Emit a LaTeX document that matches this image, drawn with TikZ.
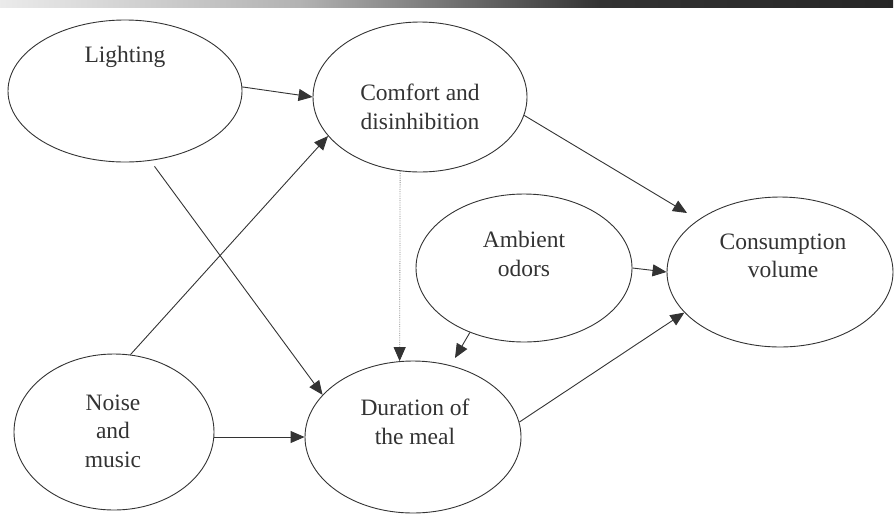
\documentclass[tikz,border=0pt]{standalone}
\usepackage{fontspec}
\setmainfont{Liberation Serif}
\usetikzlibrary{arrows.meta,shapes.geometric}
\pgfdeclarehorizontalshading{topbar}{100bp}{color(0bp)=(black!8); color(25bp)=(black!8); color(41.8bp)=(black!30); color(58.6bp)=(black!80); color(75bp)=(black!85); color(100bp)=(black!85)}
\begin{document}
\begin{tikzpicture}[x=1pt,y=-1pt,
  ell/.style={draw=black!80, line width=0.9pt, ellipse, inner sep=0pt},
  lbl/.style={align=center, text=black!80, font=\fontsize{23.5}{28.5}\selectfont, inner sep=0pt},
  arr/.style={draw=black!80, line width=0.9pt, -{Triangle[length=14pt,width=12pt]}},
  dotarr/.style={draw=black!45, line width=0.8pt, densely dotted, -{Triangle[length=14pt,width=12pt,color=black!80]}}
]
\useasboundingbox (0,0) rectangle (896,515);
% scanned top edge
\shade[shading=topbar] (0,0) rectangle (893,7);

% ellipses
\node[ell, minimum width=234pt, minimum height=142pt] (L) at (125,91) {};
\node[ell, minimum width=214pt, minimum height=150pt] (C) at (420,97) {};
\node[ell, minimum width=216pt, minimum height=148pt] (A) at (524,268) {};
\node[ell, minimum width=226pt, minimum height=150pt] (V) at (780,272) {};
\node[ell, minimum width=200pt, minimum height=156pt] (N) at (114,432) {};
\node[ell, minimum width=216pt, minimum height=152pt] (D) at (413,437) {};

% labels
\node[lbl] (Lt) at (125,57) {Lighting};
\node[lbl] (Ct) at (420,107) {Comfort and\\disinhibition};
\node[lbl] (At) at (524,254) {Ambient\\odors};
\node[lbl] (Vt) at (783,256) {Consumption\\volume};
\node[lbl] (Nt) at (113,431) {Noise\\and\\music};
\node[lbl] (Dt) at (415,422) {Duration of\\the meal};

% free arrow ends
\coordinate (ad) at (455,358);
\coordinate (cv) at (687,213);

% connectors
\draw[arr] (L.2) -- (C.west);
\draw[arr, shorten <=7pt] (L.-70) -- (D.155);
\draw[arr] (N.78) -- (C.203);
\draw[arr] (D.west -| N.east) -- (D.west);
\draw[dotarr] (C.-105) -- (D.100);
\draw[arr] (A.-130) -- (ad);
\draw[arr] (A.east) -- (V.west);
\draw[arr] (C.-10) -- (cv);
\draw[arr] (D.8) -- (V.203);
\end{tikzpicture}
\end{document}
